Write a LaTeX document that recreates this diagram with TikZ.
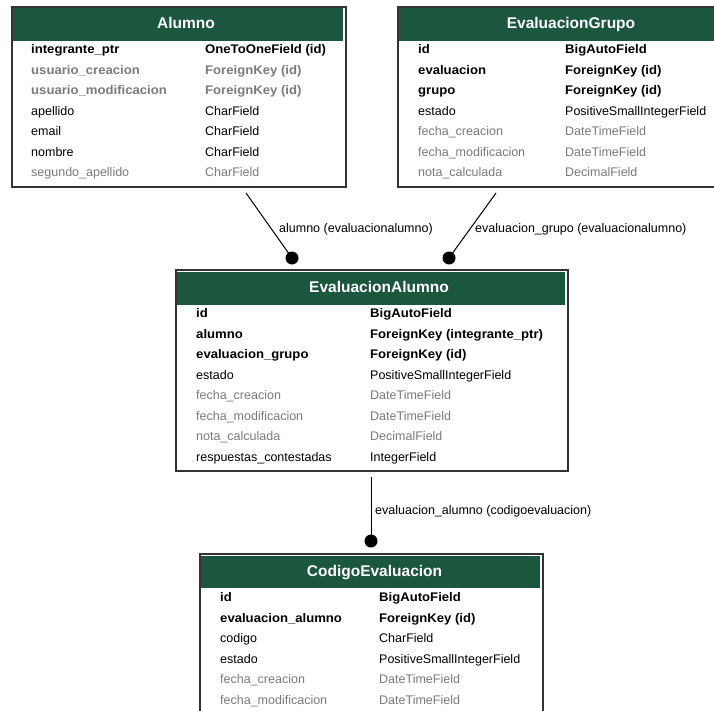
\documentclass[tikz,border=0pt]{standalone}
\usepackage{fontspec}
\setmainfont{Liberation Sans}
\newfontfamily\rb{Liberation Sans}[BoldFeatures={FakeStretch=1.05}]
\definecolor{hdr}{HTML}{1B563F}
\definecolor{dim}{HTML}{7B7B7B}
\definecolor{frm}{HTML}{333333}
\newcommand\frow[8]{%
  \node[#6, anchor=base west] (#1n#2) at (#4,#3) {#7};
  \node[#6, anchor=base west] (#1t#2) at (#5,#3) {#8};}
\tikzset{
  tbl/.style={draw=frm, line width=1.6pt, fill=white, rectangle, inner sep=0pt, anchor=north west},
  hdrbox/.style={fill=hdr, rectangle, inner sep=0pt, anchor=north west},
  ttl/.style={text=white, font=\bfseries\fontsize{15.5}{18}\selectfont, inner sep=0pt, anchor=base},
  fb/.style={text=black, font=\rb\bfseries\fontsize{12.5}{15}\selectfont, inner sep=0pt},
  fg/.style={text=dim, font=\rb\bfseries\fontsize{12.5}{15}\selectfont, inner sep=0pt},
  fr/.style={text=black, font=\fontsize{12.5}{15}\selectfont, inner sep=0pt},
  fd/.style={text=dim, font=\fontsize{12.5}{15}\selectfont, inner sep=0pt},
  lbl/.style={text=black, font=\fontsize{12.5}{15}\selectfont, inner sep=0pt, anchor=base west},
  conn/.style={draw=black, line width=1pt},
  dotend/.style={fill=black}
}
\begin{document}
\begin{tikzpicture}[x=1pt,y=-1pt]
\clip (0,0) rectangle (714,711);
\fill[white] (0,0) rectangle (714,711);

% ---------- Alumno ----------
\node[tbl, minimum width=334pt, minimum height=180pt] (alumno) at (11,6) {};
\node[hdrbox, minimum width=330pt, minimum height=33pt] (alumnoH) at (13,8) {};
\node[ttl] (alumnoT) at (186,28.5) {Alumno};
\frow{a}{1}{54}{31}{205}{fb}{integrante\_ptr}{OneToOneField (id)}
\frow{a}{2}{74.5}{31}{205}{fg}{usuario\_creacion}{ForeignKey (id)}
\frow{a}{3}{95}{31}{205}{fg}{usuario\_modificacion}{ForeignKey (id)}
\frow{a}{4}{115.5}{31}{205}{fr}{apellido}{CharField}
\frow{a}{5}{136}{31}{205}{fr}{email}{CharField}
\frow{a}{6}{156.5}{31}{205}{fr}{nombre}{CharField}
\frow{a}{7}{177}{31}{205}{fd}{segundo\_apellido}{CharField}

% ---------- EvaluacionGrupo ----------
\node[tbl, minimum width=340pt, minimum height=180pt] (grupo) at (397,6) {};
\node[hdrbox, minimum width=336pt, minimum height=33pt] (grupoH) at (399,8) {};
\node[ttl] (grupoT) at (571,28.5) {EvaluacionGrupo};
\frow{g}{1}{54}{418}{565}{fb}{id}{BigAutoField}
\frow{g}{2}{74.5}{418}{565}{fb}{evaluacion}{ForeignKey (id)}
\frow{g}{3}{95}{418}{565}{fb}{grupo}{ForeignKey (id)}
\frow{g}{4}{115.5}{418}{565}{fr}{estado}{PositiveSmallIntegerField}
\frow{g}{5}{136}{418}{565}{fd}{fecha\_creacion}{DateTimeField}
\frow{g}{6}{156.5}{418}{565}{fd}{fecha\_modificacion}{DateTimeField}
\frow{g}{7}{177}{418}{565}{fd}{nota\_calculada}{DecimalField}

% ---------- EvaluacionAlumno ----------
\node[tbl, minimum width=392pt, minimum height=201pt] (ealumno) at (175,269) {};
\node[hdrbox, minimum width=388pt, minimum height=33pt] (ealumnoH) at (177,271.5) {};
\node[ttl] (ealumnoT) at (379,292) {EvaluacionAlumno};
\frow{e}{1}{317.5}{196}{370}{fb}{id}{BigAutoField}
\frow{e}{2}{338}{196}{370}{fb}{alumno}{ForeignKey (integrante\_ptr)}
\frow{e}{3}{358.6}{196}{370}{fb}{evaluacion\_grupo}{ForeignKey (id)}
\frow{e}{4}{379.2}{196}{370}{fr}{estado}{PositiveSmallIntegerField}
\frow{e}{5}{399.8}{196}{370}{fd}{fecha\_creacion}{DateTimeField}
\frow{e}{6}{420.3}{196}{370}{fd}{fecha\_modificacion}{DateTimeField}
\frow{e}{7}{440.9}{196}{370}{fd}{nota\_calculada}{DecimalField}
\frow{e}{8}{461.5}{196}{370}{fr}{respuestas\_contestadas}{IntegerField}

% ---------- CodigoEvaluacion ----------
\node[tbl, minimum width=343pt, minimum height=190pt] (codigo) at (199,553) {};
\node[hdrbox, minimum width=339pt, minimum height=32pt] (codigoH) at (201,556) {};
\node[ttl] (codigoT) at (374.5,576) {CodigoEvaluacion};
\frow{c}{1}{601.5}{220}{379}{fb}{id}{BigAutoField}
\frow{c}{2}{622}{220}{379}{fb}{evaluacion\_alumno}{ForeignKey (id)}
\frow{c}{3}{642.5}{220}{379}{fr}{codigo}{CharField}
\frow{c}{4}{663}{220}{379}{fr}{estado}{PositiveSmallIntegerField}
\frow{c}{5}{683.5}{220}{379}{fd}{fecha\_creacion}{DateTimeField}
\frow{c}{6}{704}{220}{379}{fd}{fecha\_modificacion}{DateTimeField}

% ---------- connectors ----------
\coordinate (r1a) at (246,193);
\coordinate (r1b) at (292,258);
\draw[conn] (r1a) -- (r1b);
\fill[dotend] (r1b) circle (6.5pt);
\node[lbl] (r1l) at (279,232.5) {alumno (evaluacionalumno)};

\coordinate (r2a) at (496,193);
\coordinate (r2b) at (449,258);
\draw[conn] (r2a) -- (r2b);
\fill[dotend] (r2b) circle (6.5pt);
\node[lbl] (r2l) at (475,232.5) {evaluacion\_grupo (evaluacionalumno)};

\coordinate (r3a) at (371,477);
\coordinate (r3b) at (371,541);
\draw[conn] (r3a) -- (r3b);
\fill[dotend] (r3b) circle (6.5pt);
\node[lbl] (r3l) at (375,514.5) {evaluacion\_alumno (codigoevaluacion)};
\end{tikzpicture}
\end{document}
